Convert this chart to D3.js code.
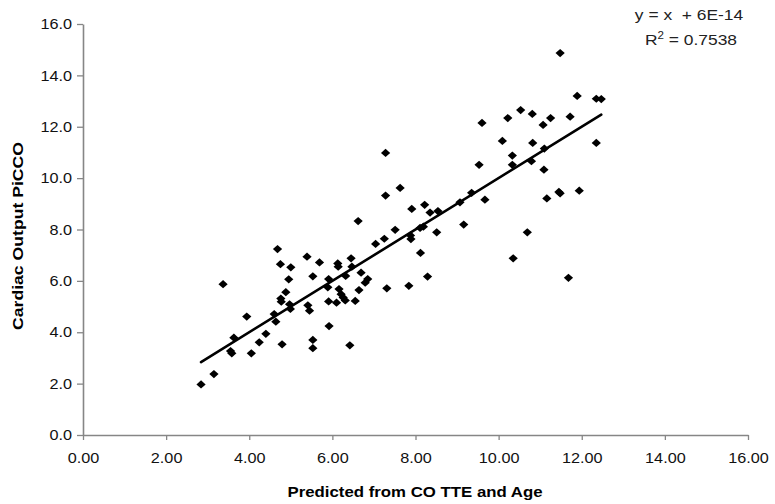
<!DOCTYPE html>
<html><head><meta charset="utf-8">
<script src="https://cdn.jsdelivr.net/npm/d3@7/dist/d3.min.js"></script>
<style>body{margin:0;background:#fff}</style>
</head><body>
<svg id="chart" width="775" height="504"></svg>
<script>
// ---- data ----
const predicted = [2.84,3.15,3.37,3.55,3.58,3.63,3.94,4.05,4.24,4.40,4.60,4.64,4.79,4.68,4.75,5.00,4.95,4.88,4.76,4.77,
  4.97,4.99,5.39,5.69,5.53,5.41,5.45,5.91,5.89,6.13,6.14,6.45,6.32,6.16,6.21,6.26,6.31,5.91,6.10,6.55,
  6.69,6.85,6.79,6.64,7.04,5.53,5.53,5.92,6.42,6.47,6.62,7.91,7.51,7.25,7.88,7.89,8.12,7.31,7.84,7.28,
  10.09,10.82,10.33,10.33,11.10,10.79,9.53,11.09,7.63,7.28,9.35,9.67,9.07,11.16,11.45,11.48,8.22,8.35,8.54,8.11,
  8.19,8.51,9.16,10.69,10.35,8.29,11.68,11.48,11.89,12.35,12.47,10.53,10.22,10.81,11.25,11.07,11.72,12.35,11.94,9.60];
const picco = [1.97,2.37,5.87,3.27,3.18,3.79,4.61,3.18,3.61,3.94,4.71,4.41,3.53,7.24,6.65,6.53,6.06,5.56,5.31,5.19,
  5.09,4.91,6.94,6.72,6.18,5.05,4.84,6.07,5.75,6.68,6.55,6.88,6.19,5.68,5.48,5.35,5.24,5.20,5.15,5.22,
  6.32,6.07,5.93,5.64,7.44,3.70,3.38,4.24,3.49,6.55,8.33,8.80,7.99,7.64,7.77,7.63,7.09,5.71,5.81,10.98,
  11.45,11.37,10.88,10.52,11.15,10.66,10.52,10.33,9.62,9.32,9.43,9.16,9.06,9.21,9.46,9.41,8.96,8.66,8.72,8.06,
  8.11,7.89,8.19,7.89,6.88,6.17,6.12,14.87,13.20,13.09,13.08,12.65,12.34,12.50,12.34,12.07,12.39,11.37,9.51,12.15];
const xTicks = [0, 2, 4, 6, 8, 10, 12, 14, 16];
const yTicks = [0, 2, 4, 6, 8, 10, 12, 14, 16];
const trendSlope = 1;
const trendIntercept = 6e-14;
const equationLabel = "y = x  + 6E-14";
const r2Value = "0.7538";
const xTitle = "Predicted from CO TTE and Age";
const yTitle = "Cardiac Output PiCCO";

// ---- layout ----
const FONT = "'Liberation Sans', Arial, Helvetica, sans-serif";
const AXIS_COLOR = "#868686";
const STRETCH = 1.12;
const svg = d3.select("#chart");
const x = d3.scaleLinear().domain([0, 16]).range([83, 748]);
const y = d3.scaleLinear().domain([0, 16]).range([435, 24]);

// axes
const gx = svg.append("g").attr("transform", "translate(0,435)")
  .call(d3.axisBottom(x).tickValues(xTicks).tickFormat(d3.format(".2f")).tickSize(5).tickSizeOuter(0).tickPadding(13));
const gy = svg.append("g").attr("transform", "translate(83,0)")
  .call(d3.axisLeft(y).tickValues(yTicks).tickFormat(d3.format(".1f")).tickSize(6).tickSizeOuter(0).tickPadding(5));

[gx, gy].forEach(g => {
  g.select(".domain").attr("stroke", AXIS_COLOR).attr("stroke-width", 1.6);
  g.selectAll(".tick line").attr("stroke", AXIS_COLOR).attr("stroke-width", 1.3);
  g.selectAll(".tick text").attr("fill", "#111").style("font-family", FONT).style("font-size", "14.5px");
});
gx.selectAll(".tick text").attr("transform", `scale(${STRETCH},1)`);
gy.selectAll(".tick text").attr("x", -11 / STRETCH).attr("transform", `scale(${STRETCH},1)`);

// trendline
const xExt = d3.extent(predicted);
svg.append("line")
  .attr("x1", x(xExt[0])).attr("y1", y(trendSlope * xExt[0] + trendIntercept))
  .attr("x2", x(xExt[1])).attr("y2", y(trendSlope * xExt[1] + trendIntercept))
  .attr("stroke", "#000").attr("stroke-width", 2.6).attr("stroke-linecap", "round");

// markers (diamonds)
const diamond = d3.symbol().type(d3.symbolSquare).size(34);
svg.append("g").selectAll("path").data(d3.zip(predicted, picco)).join("path")
  .attr("d", diamond)
  .attr("transform", d => `translate(${x(d[0])},${y(d[1])}) scale(${STRETCH},1) rotate(45)`)
  .attr("fill", "#000");

// axis titles
svg.append("text")
  .attr("transform", `translate(415,497) scale(1.2,1)`)
  .attr("text-anchor", "middle")
  .style("font-family", FONT).style("font-size", "14px").style("font-weight", "bold")
  .text(xTitle);
svg.append("text")
  .attr("transform", `translate(23,236) rotate(-90)`)
  .attr("text-anchor", "middle")
  .attr("textLength", 188).attr("lengthAdjust", "spacingAndGlyphs")
  .style("font-family", FONT).style("font-size", "14px").style("font-weight", "bold")
  .text(yTitle);

// equation and R²
const eq = svg.append("g").attr("fill", "#222").style("font-family", FONT).style("font-size", "15px");
eq.append("text").attr("transform", `translate(689,20) scale(1.16,1)`).attr("text-anchor", "middle").text(equationLabel)
  .style("white-space", "pre");
const r2 = eq.append("text").attr("transform", `translate(691,45) scale(1.16,1)`).attr("text-anchor", "middle");
r2.append("tspan").text("R");
r2.append("tspan").attr("dy", -6).style("font-size", "10px").text("2");
r2.append("tspan").attr("dy", 6).text(" = " + r2Value);
</script>
</body></html>
